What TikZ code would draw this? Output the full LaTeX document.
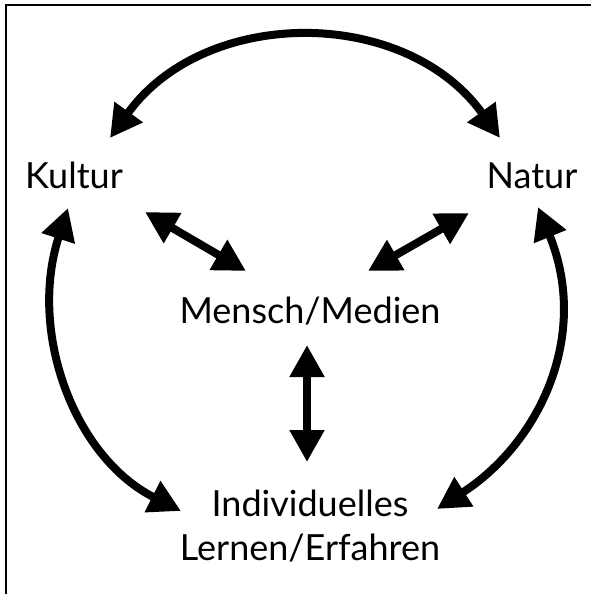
\documentclass[tikz,border=0pt]{standalone}
\usepackage{fontspec}
\setmainfont{Lato}
\usetikzlibrary{arrows.meta}
\tikzset{
  lbl/.style={font=\fontsize{36}{44}\selectfont, inner sep=0pt, anchor=base, align=center},
  rel/.style={line width=8pt, {Triangle[length=32pt,width=33pt]}-{Triangle[length=32pt,width=33pt]}},
  frameline/.style={line width=2pt, black}
}
\begin{document}
\begin{tikzpicture}[x=1pt,y=-1pt]
\useasboundingbox (0,0) rectangle (591,594);
\coordinate (fa) at (6,594);
\coordinate (fb) at (6,5);
\coordinate (fc) at (591,5);
\draw[frameline] (fa) -- (fb) -- (fc);

\node[lbl] (kultur) at (74,188) {Kultur};
\node[lbl] (natur) at (532,188) {Natur};
\node[lbl] (mensch) at (310,323) {Mensch/Medien};
\node[lbl] (indiv) at (310,516) {Individuelles};
\node[lbl] (lernen) at (310,560) {Lernen/Erfahren};

% arrow tips
\coordinate (kTop) at (110,138);
\coordinate (nTop) at (500,138);
\coordinate (kSide) at (68,208);
\coordinate (iLeft) at (181,511);
\coordinate (nSide) at (538,207);
\coordinate (iRight) at (437,509);
\coordinate (kDiag) at (145,212);
\coordinate (mLeft) at (246,271);
\coordinate (mRight) at (368,271);
\coordinate (nDiag) at (469,213);
\coordinate (mDown) at (307,345);
\coordinate (iUp) at (307,462);

\draw[rel] (kTop) .. controls (205,6) and (405,6) .. (nTop);
\draw[rel] (kSide) .. controls (28,332) and (74,457) .. (iLeft);
\draw[rel] (nSide) .. controls (591,337) and (538,444) .. (iRight);
\draw[rel] (kDiag) -- (mLeft);
\draw[rel] (mRight) -- (nDiag);
\draw[rel] (mDown) -- (iUp);
\end{tikzpicture}
\end{document}
